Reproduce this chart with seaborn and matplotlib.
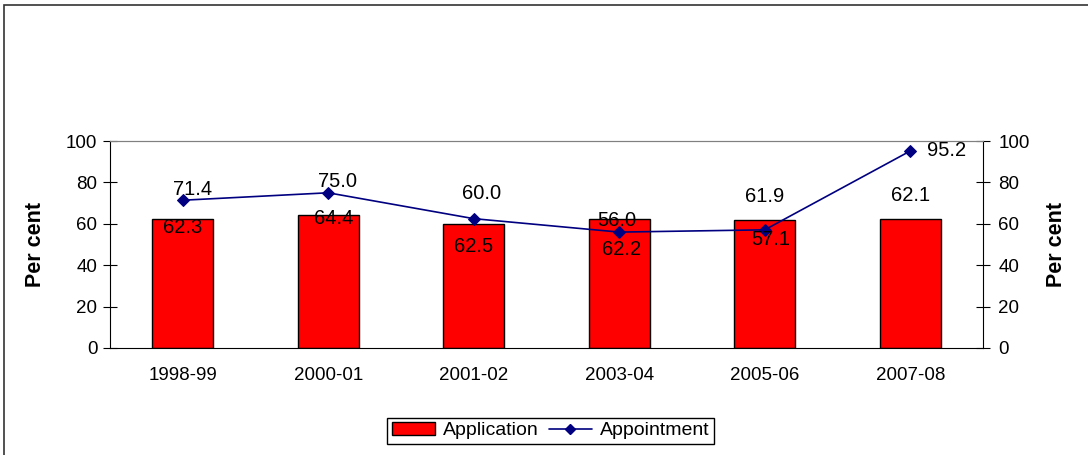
import matplotlib
matplotlib.use("Agg")
import matplotlib.pyplot as plt
import seaborn as sns
import pandas as pd
from matplotlib.patches import Rectangle

# data
years = ["1998-99", "2000-01", "2001-02", "2003-04", "2005-06", "2007-08"]
application = [62.3, 64.4, 60.0, 62.2, 61.9, 62.1]
appointment = [71.4, 75.0, 62.5, 56.0, 57.1, 95.2]

# label offsets in points (label position relative to the mark)
app_offsets = [(0, -6), (4, -3), (6, 22), (2, -22), (0, 17), (0, 17)]
appt_offsets = [(7, 8), (7, 8), (0, -20), (-2, 8), (4, -7), (26, 0)]

sns.set_style("white")
plt.rcParams["font.family"] = ["Liberation Sans", "DejaVu Sans"]
plt.rcParams["text.color"] = "black"
plt.rcParams["xtick.color"] = "black"
plt.rcParams["ytick.color"] = "black"
plt.rcParams["axes.labelcolor"] = "black"

df = pd.DataFrame({"Year": years, "Application": application, "Appointment": appointment})

fig = plt.figure(figsize=(10.88, 4.55), dpi=100)
ax = fig.add_axes([0.101, 0.2352, 0.8025, 0.4548])

sns.barplot(data=df, x="Year", y="Application", ax=ax, color="#FF0000",
            edgecolor="black", linewidth=1, width=0.42, saturation=1)

ax2 = ax.twinx()
sns.lineplot(x=list(range(len(years))), y=appointment, ax=ax2, color="#000080",
             marker="D", markersize=6, markeredgecolor="#000080", linewidth=1.2)

for a in (ax, ax2):
    a.set_ylim(0, 100)
    a.set_yticks(range(0, 101, 20))
    a.set_xlim(-0.5, len(years) - 0.5)
ax.set_xlabel("")
ax.set_ylabel("Per cent", fontsize=15.5, fontweight="bold")
ax2.set_ylabel("Per cent", fontsize=15.5, fontweight="bold")
ax.yaxis.set_label_coords(-0.0848, 0.5)
ax2.yaxis.set_label_coords(1.0836, 0.5)
for lab in (ax.yaxis.label, ax2.yaxis.label):
    lab.set_va("center")
    lab.set_ha("center")
    lab.set_rotation(90)

ax.set_xticks(range(len(years)))
ax.set_xticklabels(years)
ax.set_xticks([i - 0.5 for i in range(len(years) + 1)], minor=True)
ax.tick_params(axis="x", which="major", length=0, labelsize=13.5, pad=14)
ax.tick_params(axis="x", which="minor", length=10, direction="inout", width=0.8)
ax.tick_params(axis="y", which="major", length=10, direction="inout", width=0.8,
               labelsize=13.5, left=True, pad=4)
ax2.tick_params(axis="y", which="major", length=10, direction="inout", width=0.8,
                labelsize=13.5, right=True, pad=6)

for s in ("left", "bottom"):
    ax.spines[s].set_color("black")
ax.spines["top"].set_color("#808080")
ax2.spines["top"].set_color("#808080")
ax2.spines["right"].set_color("black")
ax2.spines["left"].set_visible(False)
ax2.spines["bottom"].set_visible(False)
ax.spines["right"].set_visible(False)

for i, v in enumerate(application):
    ax2.annotate(f"{v:.1f}", (i, v), xytext=app_offsets[i], textcoords="offset points",
                 ha="center", va="center", fontsize=14.5)
for i, v in enumerate(appointment):
    ax2.annotate(f"{v:.1f}", (i, v), xytext=appt_offsets[i], textcoords="offset points",
                 ha="center", va="center", fontsize=14.5)

handles = [Rectangle((0, 0), 1, 1, facecolor="#FF0000", edgecolor="black", linewidth=1),
           plt.Line2D([], [], color="#000080", marker="D", markersize=5, linewidth=1.2)]
if ax2.get_legend() is not None:
    ax2.get_legend().remove()
fig.legend(handles, ["Application", "Appointment"], loc="center", bbox_to_anchor=(0.506, 0.053),
           ncol=2, frameon=True, fancybox=False, edgecolor="black", fontsize=14,
           handlelength=2.2, handleheight=0.6, columnspacing=0.55, handletextpad=0.4,
           borderpad=0.25, framealpha=1)

# outer chart frame
fig.patches.append(Rectangle((4 / 1088, -0.1), 1.2, 1.1 - 5 / 455, transform=fig.transFigure,
                             fill=False, edgecolor="#333333", linewidth=1.2))

fig.savefig("out.png", dpi=100)
